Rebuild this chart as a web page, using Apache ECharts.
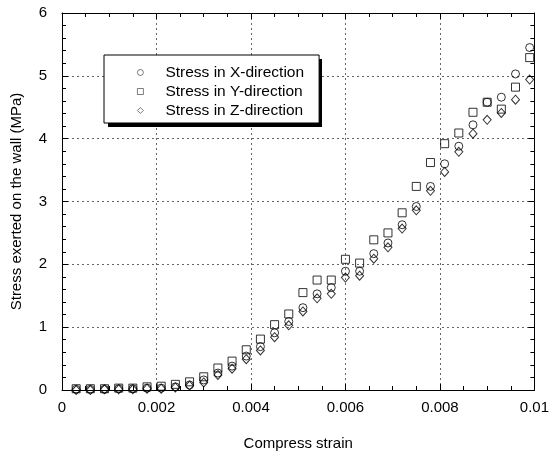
<!DOCTYPE html>
<html>
<head>
<meta charset="utf-8">
<script src="https://cdn.jsdelivr.net/npm/echarts@6/dist/echarts.min.js"></script>
<style>
  html, body { margin: 0; padding: 0; background: #fff; }
  #chart { width: 552px; height: 456px; }
</style>
</head>
<body>
<div id="chart"></div>
<script>
// compress strain (x) for every measured point
var strain = [
  0.0003, 0.0006, 0.0009, 0.0012, 0.0015, 0.0018, 0.0021, 0.0024, 0.0027, 0.003,
  0.0033, 0.0036, 0.0039, 0.0042, 0.0045, 0.0048, 0.0051, 0.0054, 0.0057, 0.006,
  0.0063, 0.0066, 0.0069, 0.0072, 0.0075, 0.0078, 0.0081, 0.0084, 0.0087, 0.009,
  0.0093, 0.0096, 0.0099
];
// stress on the wall (MPa)
var stressX = [
  0.01, 0.01, 0.01, 0.02, 0.02, 0.03, 0.03, 0.05, 0.08, 0.16,
  0.27, 0.38, 0.54, 0.69, 0.91, 1.09, 1.31, 1.53, 1.63, 1.89,
  1.89, 2.17, 2.34, 2.63, 2.92, 3.24, 3.6, 3.88, 4.22, 4.58,
  4.66, 5.03, 5.45
];
var stressY = [
  0.02, 0.02, 0.02, 0.03, 0.03, 0.05, 0.06, 0.09, 0.13, 0.21,
  0.35, 0.46, 0.64, 0.81, 1.04, 1.21, 1.55, 1.75, 1.75, 2.08,
  2.02, 2.39, 2.5, 2.82, 3.24, 3.62, 3.92, 4.09, 4.42, 4.58,
  4.47, 4.82, 5.29
];
var stressZ = [
  0.0, 0.0, 0.01, 0.01, 0.01, 0.02, 0.02, 0.04, 0.07, 0.12,
  0.24, 0.34, 0.49, 0.63, 0.84, 1.03, 1.25, 1.46, 1.53, 1.79,
  1.82, 2.09, 2.27, 2.57, 2.86, 3.17, 3.47, 3.79, 4.08, 4.3,
  4.41, 4.62, 4.94
];
var seriesNames = ["Stress in X-direction", "Stress in Y-direction", "Stress in Z-direction"];
var xTickLabels = ["0", "0.002", "0.004", "0.006", "0.008", "0.01"];
var yTickLabels = ["0", "1", "2", "3", "4", "5", "6"];

var font = "Liberation Sans, Arial, Helvetica, sans-serif";

function pairs(ys) {
  return strain.map(function (x, i) { return [x, ys[i]]; });
}

var chart = echarts.init(document.getElementById("chart"), null, { renderer: "canvas" });

var gridLine = { show: true, lineStyle: { color: "#666", width: 1, type: [2, 3] } };
var frameLine = { show: true, onZero: false, lineStyle: { color: "#000", width: 1 } };
var tickIn = { show: true, inside: true, length: 6, lineStyle: { color: "#000" } };

function hollow(symbol) {
  return {
    type: "scatter",
    symbol: symbol,
    symbolSize: 8,
    itemStyle: { color: "rgba(0,0,0,0)", borderColor: "#000", borderWidth: 1 },
    emphasis: { disabled: true }
  };
}

var sX = hollow("circle"); sX.name = seriesNames[0]; sX.data = pairs(stressX);
var sY = hollow("rect"); sY.name = seriesNames[1]; sY.data = pairs(stressY);
var sZ = hollow("diamond"); sZ.name = seriesNames[2]; sZ.data = pairs(stressZ); sZ.symbolSize = [8, 9];

var option = {
  backgroundColor: "#fff",
  animation: false,
  grid: { left: 62, right: 14, top: 13, bottom: 63 },
  // drop shadow of the legend box
  graphic: [{
    type: "rect", left: 108, top: 59, z: 3,
    shape: { width: 214, height: 68 },
    style: { fill: "#000" }
  }],
  legend: {
    orient: "vertical",
    left: 104,
    top: 55,
    z: 5,
    padding: [8, 15, 3, 33],
    itemGap: 0,
    itemWidth: 6,
    itemHeight: 6,
    backgroundColor: "#fff",
    borderColor: "#000",
    borderWidth: 1,
    itemStyle: { color: "rgba(0,0,0,0)", borderColor: "#333", borderWidth: 0.8 },
    textStyle: { fontFamily: font, fontSize: 15.5, color: "#000", lineHeight: 19, padding: [0, 0, 0, 17] },
    data: seriesNames
  },
  xAxis: [
    {
      type: "value",
      min: 0, max: 0.01, interval: 0.002,
      name: "Compress strain",
      nameLocation: "middle",
      nameGap: 46,
      nameTextStyle: { fontFamily: font, fontSize: 15, color: "#000" },
      axisLine: frameLine,
      axisTick: tickIn,
      minorTick: { show: true, splitNumber: 4, length: 4, lineStyle: { color: "#000" } },
      splitLine: gridLine,
      axisLabel: {
        fontFamily: font, fontSize: 15, color: "#000", margin: 10,
        formatter: function (v) { return xTickLabels[Math.round(v / 0.002)]; }
      }
    },
    {
      type: "value", position: "top",
      min: 0, max: 0.01, interval: 0.002,
      axisLine: frameLine,
      axisTick: tickIn,
      minorTick: { show: true, splitNumber: 4, length: 4, lineStyle: { color: "#000" } },
      splitLine: { show: false },
      axisLabel: { show: false }
    }
  ],
  yAxis: [
    {
      type: "value",
      min: 0, max: 6, interval: 1,
      name: "Stress exerted on the wall (MPa)",
      nameLocation: "middle",
      nameGap: 38,
      nameTextStyle: { fontFamily: font, fontSize: 15, color: "#000" },
      axisLine: frameLine,
      axisTick: tickIn,
      minorTick: { show: true, splitNumber: 5, length: 4, lineStyle: { color: "#000" } },
      splitLine: gridLine,
      axisLabel: {
        fontFamily: font, fontSize: 15, color: "#000", margin: 15,
        formatter: function (v) { return yTickLabels[Math.round(v)]; }
      }
    },
    {
      type: "value", position: "right",
      min: 0, max: 6, interval: 1,
      axisLine: frameLine,
      axisTick: tickIn,
      minorTick: { show: true, splitNumber: 5, length: 4, lineStyle: { color: "#000" } },
      splitLine: { show: false },
      axisLabel: { show: false }
    }
  ],
  series: [sX, sY, sZ]
};

chart.setOption(option);
</script>
</body>
</html>
